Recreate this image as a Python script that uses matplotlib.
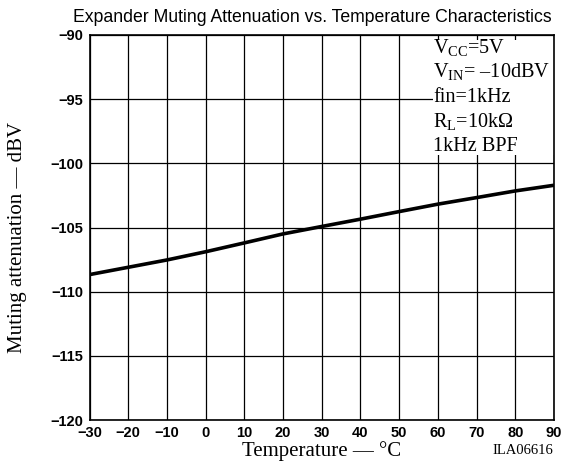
import matplotlib
matplotlib.use("Agg")
import matplotlib.pyplot as plt
from matplotlib.patches import Rectangle

# data
temperature = [-30, -20, -10, 0, 10, 20, 30, 40, 50, 60, 70, 80, 90]
attenuation = [-108.67, -108.1, -107.53, -106.89, -106.2, -105.5, -104.92,
               -104.35, -103.76, -103.18, -102.67, -102.15, -101.71]

x_ticks = list(range(-30, 91, 10))
y_ticks = list(range(-120, -89, 5))

conditions = ["V$_{\\mathregular{CC}}$=5V",
              "V$_{\\mathregular{IN}}$= \u201310dBV",
              "fin=1kHz",
              "R$_{\\mathregular{L}}$=10k\u03a9",
              "1kHz BPF"]

plt.rcParams['mathtext.fontset'] = 'custom'
plt.rcParams['mathtext.rm'] = 'Liberation Serif'
plt.rcParams['axes.unicode_minus'] = True

sans = ['Liberation Sans Narrow', 'Liberation Sans', 'DejaVu Sans']
serif = ['Liberation Serif', 'DejaVu Serif']

fig = plt.figure(figsize=(5.64, 4.67), dpi=100)
ax = fig.add_axes([89.5 / 564, 1 - 420 / 467, (554 - 89.5) / 564, 385 / 467])

ax.plot(temperature, attenuation, color='black', lw=2.6, zorder=4,
        solid_capstyle='butt')

ax.set_xlim(-30, 90)
ax.set_ylim(-120, -90)
ax.set_xticks(x_ticks)
ax.set_yticks(y_ticks)
ax.grid(True, color='black', lw=0.9)
ax.set_axisbelow(True)
ax.tick_params(length=0, pad=4.5)
for lab in ax.get_xticklabels() + ax.get_yticklabels():
    lab.set_family(['Liberation Sans', 'DejaVu Sans'])
    lab.set_fontweight('bold')
    lab.set_fontsize(10.5)
for s in ax.spines.values():
    s.set_linewidth(1.2)

# white box behind the test conditions
ax.add_patch(Rectangle((0.7395, 0.688), 0.2605, 0.299, transform=ax.transAxes,
                       facecolor='white', edgecolor='none', zorder=2))
for i, line in enumerate(conditions):
    ax.text(0.7395, 0.966 - i * 0.064, line, transform=ax.transAxes,
            family=serif, fontsize=14.6, va='center', ha='left', zorder=5)

title = fig.text(312 / 564, 1 - 18 / 467,
                 "Expander Muting Attenuation vs. Temperature Characteristics",
                 family=sans, fontsize=14, ha='center', va='center')
# no narrow face here, so shrink the title to the reference width (~481 px)
fig.canvas.draw()
w = title.get_window_extent().width
title.set_fontsize(14 * 481 / w)

fig.text(18 / 564, 1 - 237 / 467, "Muting attenuation \u2014 dBV",
         family=serif, fontsize=15, rotation=90, ha='center', va='center')
fig.text(322 / 564, 1 - 451 / 467, "Temperature \u2014 \u00b0C",
         family=serif, fontsize=15, ha='center', va='center')
fig.text(553 / 564, 1 - 451 / 467, "ILA06616",
         family=serif, fontsize=10.5, ha='right', va='center')

fig.savefig("out.png", dpi=100)
